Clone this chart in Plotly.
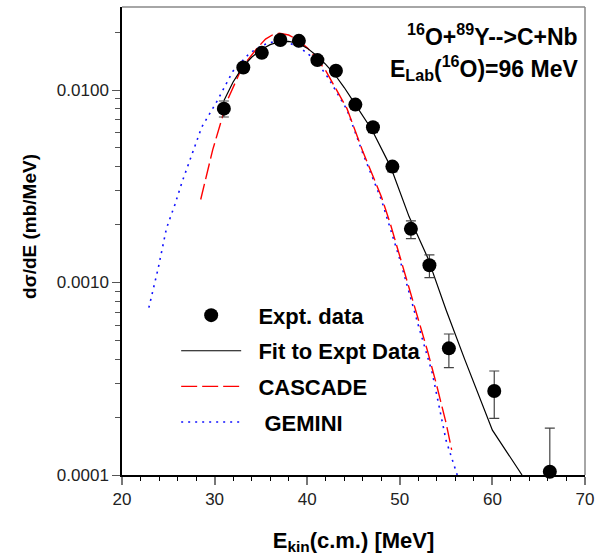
import plotly.graph_objects as go
import numpy as np

# Experimental data
x_exp = [31.0, 33.1, 35.1, 37.1, 39.1, 41.1, 43.1, 45.2, 47.1, 49.2, 51.2, 53.2, 55.3, 60.2, 66.2]
y_exp = [0.0080, 0.0131, 0.0156, 0.0182, 0.0180, 0.0143, 0.0126, 0.0084, 0.0064, 0.0040,
         0.0019, 0.00123, 0.000455, 0.000273, 0.000104]
err_plus = [0.00077, 0.0006, 0.0007, 0.0008, 0.0008, 0.0006, 0.0005, 0.0004, 0.0003, 0.0002,
            0.00019, 0.00016, 0.000085, 0.000074, 0.000071]
err_minus = [0.00076, 0.0006, 0.0007, 0.0008, 0.0008, 0.0006, 0.0005, 0.0004, 0.0004, 0.00025,
             0.00021, 0.00017, 0.000094, 0.000076, 0.000004]

# Fit to experimental data
x_fit = [31, 32, 33, 34, 35, 36, 37, 38, 39, 40, 41, 42, 43, 44, 45, 47, 49, 51, 53, 55, 57, 60, 63.2]
y_fit = [0.0088, 0.0110, 0.0131, 0.0148, 0.0162, 0.0172, 0.0178, 0.0179, 0.0175, 0.0165, 0.0151,
         0.0136, 0.0120, 0.0103, 0.0087, 0.0062, 0.0040, 0.0022, 0.00135, 0.00072, 0.00040,
         0.000171, 0.0001]

# CASCADE
x_cas = [28.5, 29.8, 31.4, 33.0, 34.5, 35.5, 36.3, 37.0, 38.0, 39.0, 40.0, 41.0, 42.0, 43.0, 44.3,
         46.0, 48.0, 49, 50, 51, 52, 53, 54, 55, 55.6]
y_cas = [0.0027, 0.0049, 0.0089, 0.0132, 0.0163, 0.0184, 0.0194, 0.0197, 0.0193, 0.0182, 0.0166,
         0.0146, 0.0126, 0.0104, 0.0080, 0.0048, 0.0028, 0.0020, 0.00138, 0.00095, 0.00065,
         0.00044, 0.00029, 0.000186, 0.000135]

# GEMINI
x_gem = [22.9, 23.9, 24.8, 25.7, 26.5, 27.5, 28.6, 30.35, 31.96, 33.75, 35.2, 37.0, 39.1, 40.9,
         42.3, 44.3, 46.0, 48.0, 50.0, 52.0, 53.5, 55.0, 56.2]
y_gem = [0.00074, 0.00118, 0.00191, 0.00253, 0.00334, 0.0045, 0.0064, 0.0089, 0.0125, 0.0155,
         0.0171, 0.0182, 0.0168, 0.0143, 0.0115, 0.0079, 0.0047, 0.0027, 0.00132, 0.00060,
         0.00034, 0.000151, 0.0001]

FONT = "Arial, Liberation Sans, sans-serif"

fig = go.Figure()

fig.add_trace(go.Scatter(x=x_gem, y=y_gem, mode="lines", name="   GEMINI", legendrank=4,
                         legendgroup="d",
                         line=dict(color="#1010ff", width=1.6, dash="2px,5px")))
fig.add_trace(go.Scatter(x=x_cas, y=y_cas, mode="lines", name="  CASCADE", legendrank=3,
                         legendgroup="c",
                         line=dict(color="#ff0000", width=1.4, dash="16px,5px")))
fig.add_trace(go.Scatter(x=x_fit, y=y_fit, mode="lines", name="  Fit to Expt Data", legendrank=2,
                         legendgroup="b",
                         line=dict(color="black", width=1.2)))
fig.add_trace(go.Scatter(x=x_exp, y=y_exp, mode="markers", name="  Expt. data", legendrank=1,
                         legendgroup="a", cliponaxis=False,
                         marker=dict(color="black", size=14, symbol="circle"),
                         error_y=dict(type="data", symmetric=False, array=err_plus,
                                      arrayminus=err_minus, color="#444", thickness=1.2, width=5)))

minor_y = [k * 10 ** e for e in (-4, -3, -2) for k in range(2, 10) if k * 10 ** e < 0.027]

fig.update_layout(
    width=601, height=558,
    margin=dict(l=122, r=11, t=7, b=83),
    paper_bgcolor="white", plot_bgcolor="white",
    font=dict(family=FONT, color="black"),
    showlegend=True,
    legend=dict(x=0.117, y=0.386, xanchor="left", yanchor="top",
                bgcolor="rgba(0,0,0,0)", borderwidth=0,
                font=dict(family=FONT, size=22, color="black", weight="bold"),
                itemwidth=60, tracegroupgap=4, traceorder="grouped"),
    xaxis=dict(range=[20, 70], tickmode="array", tickvals=[20, 30, 40, 50, 60, 70],
               ticks="outside", ticklen=8, tickwidth=1.5, tickcolor="#777",
               showline=True, linecolor="black", linewidth=1.5, showgrid=False, zeroline=False,
               tickfont=dict(family=FONT, size=17, color="#222"),
               minor=dict(tickmode="array", tickvals=list(range(22, 70, 2)), ticks="outside",
                          ticklen=4, tickwidth=1, tickcolor="black", showgrid=False),
               title=dict(text="E<sub>kin</sub>(c.m.) [MeV]", standoff=24,
                          font=dict(family=FONT, size=22, color="black", weight="bold"))),
    yaxis=dict(type="log", range=[-4, -1.5688], tickmode="array",
               tickvals=[0.0001, 0.001, 0.01], ticktext=["0.0001", "0.0010", "0.0100"],
               ticks="outside", ticklen=8, tickwidth=1.2, tickcolor="#555",
               showline=True, linecolor="black", linewidth=1.5, showgrid=False, zeroline=False,
               tickfont=dict(family=FONT, size=17, color="#222"),
               minor=dict(tickmode="array", tickvals=minor_y, ticks="outside", ticklen=5,
                          tickwidth=1, tickcolor="#555", showgrid=False)),
    shapes=[
        dict(type="line", xref="paper", yref="paper", x0=0, x1=1, y0=1, y1=1,
             line=dict(color="#888", width=1.5)),
        dict(type="line", xref="paper", yref="paper", x0=1, x1=1, y0=0, y1=1,
             line=dict(color="#888", width=1.5)),
    ],
    annotations=[
        dict(text="dσ/dE (mb/MeV)", xref="paper", yref="paper", x=-0.201, y=0.532,
             xanchor="center", yanchor="middle", textangle=-90, showarrow=False,
             font=dict(family=FONT, size=19, color="black", weight="bold")),
        dict(text="<sup>16</sup>O+<sup>89</sup>Y-->C+Nb", xref="paper", yref="paper",
             x=0.99, y=0.904, xanchor="right", yanchor="bottom", showarrow=False,
             font=dict(family=FONT, size=23, color="black", weight="bold")),
        dict(text="E<sub>Lab</sub>(<sup>16</sup>O)=96 MeV", xref="paper", yref="paper",
             x=0.99, y=0.832, xanchor="right", yanchor="bottom", showarrow=False,
             font=dict(family=FONT, size=23, color="black", weight="bold")),
    ],
)

fig.write_html("out.html")
